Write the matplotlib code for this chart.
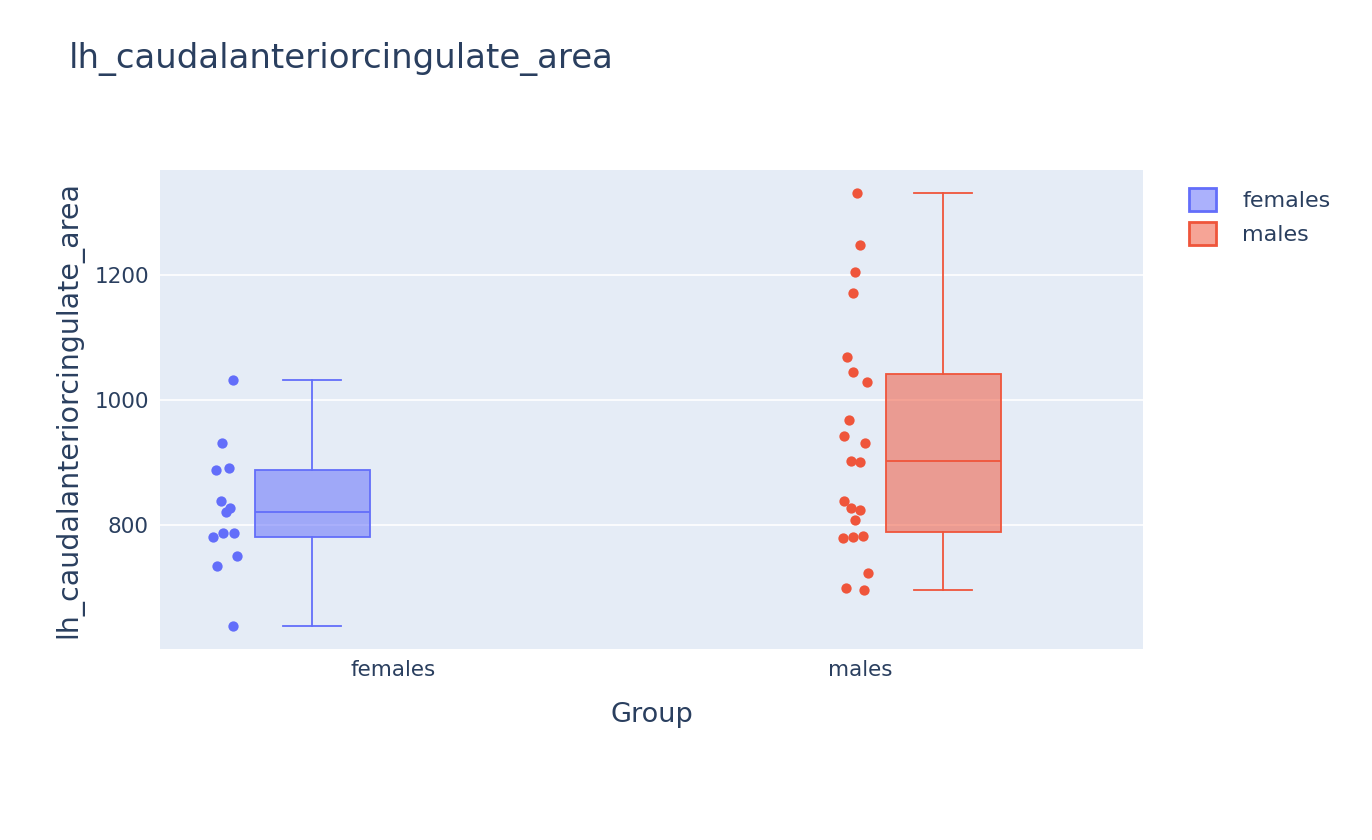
import matplotlib
matplotlib.use("Agg")
import matplotlib.pyplot as plt
from matplotlib.patches import Patch
import numpy as np

groups = ["females", "males"]
colors = ["#636efa", "#EF553B"]

females = [1032, 930, 888, 891, 838, 827, 821, 787, 786, 781, 750, 734, 638]
females_jit = [0.017, -0.006, -0.019, 0.009, -0.008, 0.011, 0.002, 0.019, -0.004, -0.026, 0.026, -0.017, 0.017]
males = [1330, 1248, 1205, 1170, 1069, 1045, 1029, 968, 942, 930, 902, 901,
         838, 826, 824, 808, 779, 781, 782, 723, 699, 696]
males_jit = [0.004, 0.011, 0.000, -0.006, -0.017, -0.004, 0.024, -0.013, -0.024, 0.021, -0.009, 0.009,
             -0.024, -0.009, 0.011, 0.000, -0.026, -0.006, 0.017, 0.028, -0.021, 0.019]

data = [females, males]
jit = [females_jit, males_jit]
box_off = [-0.173, 0.178]
pt_off = [-0.36, -0.01]

fig = plt.figure(figsize=(13.72, 8.4), dpi=100)
ax = fig.add_axes([0.1166, 0.2274, 0.7165, 0.5706])
ax.set_facecolor("#E5ECF6")
for s in ax.spines.values():
    s.set_visible(False)
ax.yaxis.grid(True, color="white", linewidth=1.2)
ax.set_axisbelow(True)

for i, (vals, c) in enumerate(zip(data, colors)):
    ax.boxplot([vals], positions=[i + box_off[i]], widths=0.246, patch_artist=True,
               showfliers=False, whis=1.5,
               boxprops=dict(facecolor=c + "88", edgecolor=c, linewidth=1.3),
               medianprops=dict(color=c, linewidth=1.3),
               whiskerprops=dict(color=c, linewidth=1.3),
               capprops=dict(color=c, linewidth=1.3))
    xs = i + pt_off[i] + np.array(jit[i])
    ax.scatter(xs, vals, s=55, color=c, zorder=3, linewidths=0)

ax.set_xlim(-0.499, 1.606)
ax.set_ylim(601, 1368)
ax.set_xticks([0, 1])
ax.set_xticklabels(groups)
ax.set_yticks([800, 1000, 1200])
ax.tick_params(length=0, labelsize=15.5, labelcolor="#2a3f5f", pad=8)
ax.set_xlabel("Group", fontsize=19.5, color="#2a3f5f", labelpad=16)
ax.set_ylabel("lh_caudalanteriorcingulate_area", fontsize=20.5, color="#2a3f5f", labelpad=8)
fig.text(0.05, 0.93, "lh_caudalanteriorcingulate_area", fontsize=24.5, color="#2a3f5f", va="center")

handles = [Patch(facecolor=c + "88", edgecolor=c, linewidth=2, label=g) for g, c in zip(groups, colors)]
leg = fig.legend(handles=handles, loc="upper left", bbox_to_anchor=(0.852, 0.8), frameon=False,
                 fontsize=16, handlelength=1.2, handleheight=1.2, handletextpad=1.2, labelspacing=0.5)
for t in leg.get_texts():
    t.set_color("#2a3f5f")

fig.savefig("out.png")
